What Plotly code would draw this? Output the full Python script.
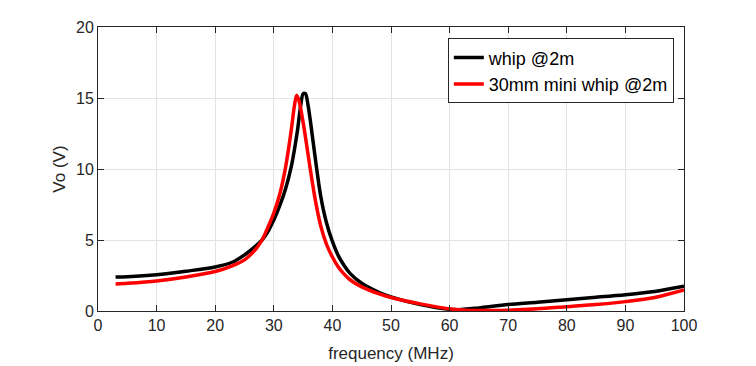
import plotly.graph_objects as go

# frequency (MHz) and Vo (V)
freq_whip = [3, 5, 10, 15, 20, 23, 25, 27, 28, 29, 30, 31, 32, 33, 34, 34.6, 35.0, 35.4, 35.8, 36.3, 37, 38, 39, 40, 41, 42, 43, 45, 48, 50, 55, 60, 62, 65, 70, 75, 80, 85, 90, 95, 100]
vo_whip = [2.4, 2.42, 2.55, 2.8, 3.1, 3.45, 3.95, 4.6, 5.0, 5.6, 6.4, 7.4, 8.6, 10.2, 12.6, 14.5, 15.3, 15.3, 14.6, 13.2, 11.0, 8.1, 6.2, 4.9, 3.9, 3.2, 2.65, 1.95, 1.3, 1.0, 0.45, 0.12, 0.1, 0.22, 0.45, 0.62, 0.8, 0.97, 1.15, 1.38, 1.75]

freq_mini = [3, 5, 10, 15, 20, 23, 25, 27, 28, 29, 30, 31, 32, 33, 33.5, 33.9, 34.3, 35, 36, 37, 38, 39, 40, 41, 42, 43, 45, 48, 50, 55, 60, 65, 70, 75, 80, 85, 90, 95, 100]
vo_mini = [1.9, 1.95, 2.12, 2.4, 2.78, 3.2, 3.6, 4.4, 5.0, 5.9, 6.9, 8.2, 10.1, 12.8, 14.4, 15.2, 14.8, 13.3, 10.6, 8.0, 6.0, 4.7, 3.8, 3.1, 2.6, 2.2, 1.7, 1.2, 0.95, 0.5, 0.15, 0.03, 0.06, 0.15, 0.3, 0.45, 0.66, 0.95, 1.48]

x_ticks = [0, 10, 20, 30, 40, 50, 60, 70, 80, 90, 100]
y_ticks = [0, 5, 10, 15, 20]

FONT = "Arial, Liberation Sans, sans-serif"
AX = "#262626"

fig = go.Figure()
fig.add_trace(go.Scatter(x=freq_whip, y=vo_whip, mode="lines", name="whip @2m",
                         line=dict(color="#000000", width=3.5, shape="spline", smoothing=0.8)))
fig.add_trace(go.Scatter(x=freq_mini, y=vo_mini, mode="lines", name="30mm mini whip @2m",
                         line=dict(color="#ff0000", width=3.5, shape="spline", smoothing=0.8)))

axis_common = dict(showline=True, linecolor=AX, linewidth=1, mirror="ticks",
                   ticks="inside", ticklen=6, tickcolor=AX, showgrid=True,
                   gridcolor="#e3e3e3", gridwidth=1, zeroline=False, automargin=False,
                   tickfont=dict(family=FONT, size=16, color=AX))

fig.update_xaxes(range=[0, 100], tickvals=x_ticks, **axis_common,
                 title=dict(text="frequency (MHz)", font=dict(family=FONT, size=17, color=AX), standoff=13))
fig.update_yaxes(range=[0, 20], tickvals=y_ticks, **axis_common,
                 title=dict(text="Vo (V)", font=dict(family=FONT, size=17, color=AX), standoff=6))

fig.update_layout(
    width=748, height=358,
    margin=dict(l=90, r=72, t=19, b=55, autoexpand=False),
    plot_bgcolor="white", paper_bgcolor="white",
    legend=dict(x=0.597, y=0.96, xanchor="left", yanchor="top",
                bgcolor="white", bordercolor=AX, borderwidth=1,
                font=dict(family=FONT, size=18, color="#000000"),
                tracegroupgap=0, itemwidth=30),
    showlegend=True,
)

fig.write_html("out.html")
